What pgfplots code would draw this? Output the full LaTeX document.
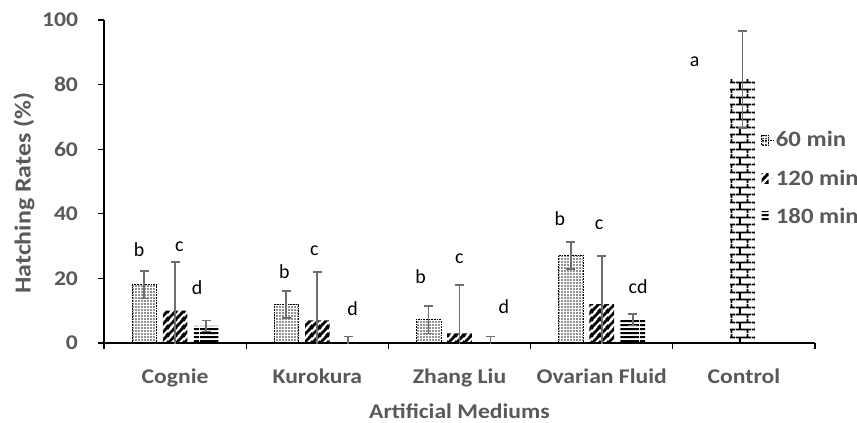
\documentclass[border=0pt]{standalone}
\usepackage{pgfplots}
\pgfplotsset{compat=1.18}
\usepackage{fontspec}
\setmainfont{Carlito}
\newfontfamily\widefont[FakeStretch=1.13]{Carlito}
\usetikzlibrary{patterns}
\definecolor{txt}{HTML}{595959}
\definecolor{errc}{HTML}{6E6E6E}

\pgfdeclarepatternformonly{mydots}{\pgfpointorigin}{\pgfpoint{3bp}{3.3bp}}{\pgfpoint{3bp}{3.3bp}}{%
  \pgfpathrectangle{\pgfpoint{0.6bp}{0.6bp}}{\pgfpoint{1.5bp}{1.5bp}}\pgfusepath{fill}}
\pgfdeclarepatternformonly{mydiag}{\pgfpointorigin}{\pgfpoint{8bp}{8bp}}{\pgfpoint{8bp}{8bp}}{%
  \pgfsetlinewidth{3bp}%
  \pgfpathmoveto{\pgfpoint{-1bp}{-1bp}}\pgfpathlineto{\pgfpoint{9bp}{9bp}}%
  \pgfpathmoveto{\pgfpoint{-9bp}{-1bp}}\pgfpathlineto{\pgfpoint{1bp}{9bp}}%
  \pgfpathmoveto{\pgfpoint{7bp}{-1bp}}\pgfpathlineto{\pgfpoint{17bp}{9bp}}%
  \pgfusepath{stroke}}
\pgfdeclarepatternformonly{myhoriz}{\pgfpointorigin}{\pgfpoint{40bp}{4.2bp}}{\pgfpoint{40bp}{4.2bp}}{%
  \pgfpathrectangle{\pgfpoint{0bp}{1bp}}{\pgfpoint{40bp}{2.3bp}}\pgfusepath{fill}}
\pgfdeclarepatternformonly{mybricks}{\pgfpointorigin}{\pgfpoint{16bp}{15bp}}{\pgfpoint{16bp}{15bp}}{%
  \pgfsetlinewidth{1.9bp}%
  \pgfpathmoveto{\pgfpoint{0bp}{3.75bp}}\pgfpathlineto{\pgfpoint{16bp}{3.75bp}}%
  \pgfpathmoveto{\pgfpoint{0bp}{11.25bp}}\pgfpathlineto{\pgfpoint{16bp}{11.25bp}}%
  \pgfpathmoveto{\pgfpoint{4bp}{3.75bp}}\pgfpathlineto{\pgfpoint{4bp}{11.25bp}}%
  \pgfpathmoveto{\pgfpoint{12bp}{11.25bp}}\pgfpathlineto{\pgfpoint{12bp}{15bp}}%
  \pgfpathmoveto{\pgfpoint{12bp}{0bp}}\pgfpathlineto{\pgfpoint{12bp}{3.75bp}}%
  \pgfusepath{stroke}}

% x = category index + offset of the bar in its group
\pgfplotstableread{
x y e
-0.218 18.1 4.3
0.782 12.0 4.2
1.782 7.2 4.3
2.782 27.1 4.2
}\tsixty
\pgfplotstableread{
x y e
0 10.0 15
1 7.0 15
2 3.0 15
3 12.0 15
}\ttwenty
\pgfplotstableread{
x y e
0.218 5.3 1.7
1.218 0.0 2.0
2.218 0.0 2.0
3.218 7.2 1.8
}\teighty
\pgfplotstableread{
x y e
3.99 81.5 15.0
}\tcontrol

\begin{document}
\begin{tikzpicture}
\begin{axis}[
  scale only axis, width=711bp, height=323bp,
  xmin=-0.5, xmax=4.5, ymin=0, ymax=100,
  axis x line=bottom, axis y line=left,
  axis line style={-, black, line width=1.1bp},
  tick align=outside,
  major tick length=6bp,
  tick style={black, line width=1.1bp},
  /pgf/number format/assume math mode=true,
  ytick={0,20,40,60,80,100},
  xtick={-0.5,0.5,1.5,2.5,3.5,4.5}, xticklabels={},
  extra x ticks={0,1,2,3,4},
  extra x tick labels={Cognie,Kurokura,Zhang Liu,Ovarian Fluid,Control},
  extra x tick style={major tick length=0pt, tick label style={yshift=-22bp}},
  tick label style={font=\widefont\fontsize{21}{21}\selectfont\bfseries, text=txt},
  yticklabel style={xshift=-16.5bp},
  xlabel={Artificial Mediums},
  ylabel={Hatching Rates (\%)},
  xlabel style={font=\widefont\fontsize{21}{21}\selectfont\bfseries, text=txt},
  ylabel style={font=\widefont\fontsize{23}{23}\selectfont\bfseries, text=txt,
    at={(rel axis cs:-0.1125,0.464)}, anchor=center},
  xlabel shift=4bp,
  bar width=0.173,
  error bars/y dir=both, error bars/y explicit,
  error bars/error mark options={rotate=90, mark size=4.5bp, line width=1.7bp, errc},
  error bars/error bar style={solid, line width=1.7bp, errc},
  legend style={draw=none, fill=none, at={(rel axis cs:0.92,0.668)}, anchor=north west,
    font=\widefont\fontsize{22}{22}\selectfont\bfseries, text=txt, row sep=17.5bp,
    legend cell align=left},
  legend image code/.code={\fill[#1] (0bp,-5bp) rectangle (7bp,5bp); \path (0bp,0bp) -- (12bp,0bp);},
]
\addplot[ybar, bar shift=0, draw=black, densely dotted, line width=0.6bp, pattern=mydots]
  table[x=x, y=y, y error=e]{\tsixty};
\addlegendentry{60 min}
\addplot[ybar, bar shift=0, draw=none, pattern=mydiag]
  table[x=x, y=y, y error=e]{\ttwenty};
\addlegendentry{120 min}
\addplot[ybar, bar shift=0, draw=none, pattern=myhoriz]
  table[x=x, y=y, y error=e]{\teighty};
\addlegendentry{180 min}
\addplot[ybar, bar shift=0, draw=none, pattern=mybricks, forget plot]
  table[x=x, y=y, y error=e]{\tcontrol};
\begin{scope}[every node/.style={anchor=base, font=\fontsize{20}{20}\selectfont, text=black}]
\node at (axis cs:-0.253,26.7) {b};
\node at (axis cs:0.029,28.3) {c};
\node at (axis cs:0.155,14.9) {d};
\node at (axis cs:0.768,20.0) {b};
\node at (axis cs:0.980,27.2) {c};
\node at (axis cs:1.248,8.5) {d};
\node at (axis cs:1.727,18.5) {b};
\node at (axis cs:1.998,24.7) {c};
\node at (axis cs:2.312,9.2) {d};
\node at (axis cs:2.706,36.5) {b};
\node at (axis cs:2.981,35.0) {c};
\node at (axis cs:3.256,15.4) {cd};
\node at (axis cs:3.654,85.5) {a};
\end{scope}
\coordinate (bl) at (rel axis cs:0,0);
\coordinate (tr) at (rel axis cs:1,1);
\end{axis}
\pgfresetboundingbox
\path[use as bounding box] ([shift={(-104bp,-79bp)}]bl) rectangle ([shift={(42bp,20bp)}]tr);
\end{tikzpicture}
\end{document}
